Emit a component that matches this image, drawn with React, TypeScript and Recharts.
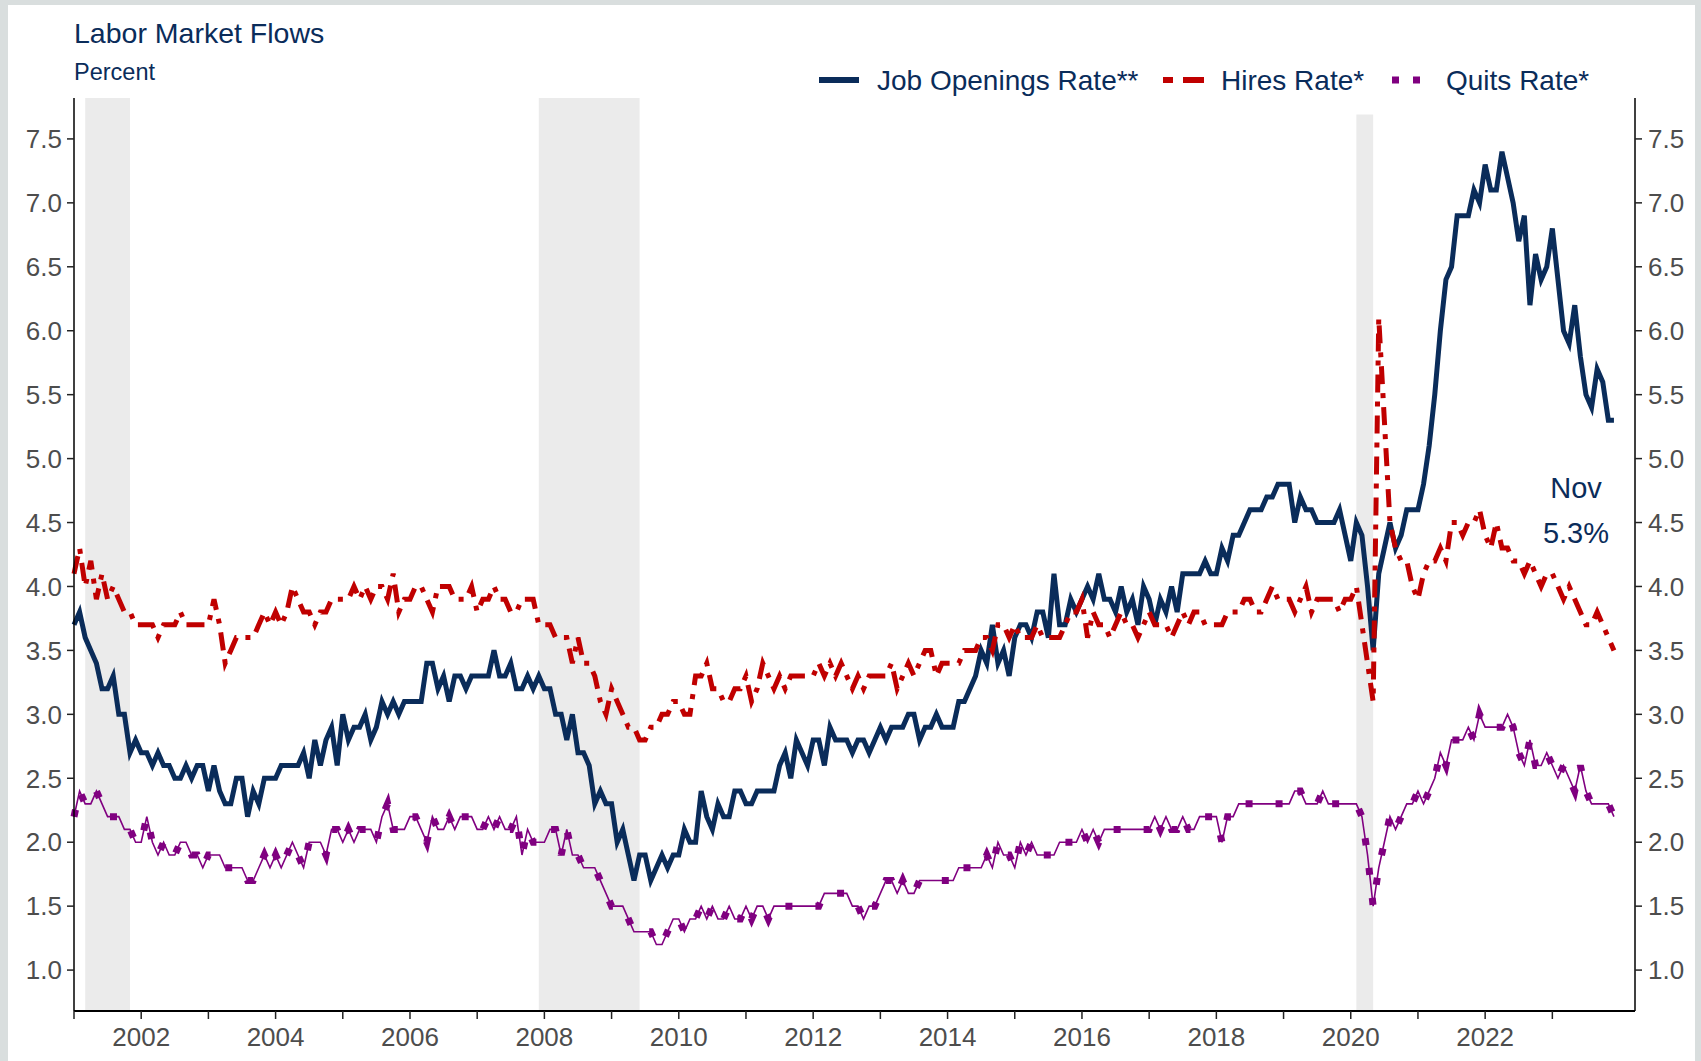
import { LineChart, Line, XAxis, YAxis, ReferenceArea } from 'recharts';

const FONT = '"Liberation Sans", Arial, sans-serif';
const NAVY = '#0A2C5A';
const RED = '#C00000';
const PURPLE = '#800080';
const TICK_GREY = '#4D4D4D';

// monthly, first value = Dec 2000, last = Nov 2023
const START_YEAR = 2001;

const JOB_OPENINGS = [
  3.7, 3.8, 3.6, 3.5, 3.4, 3.2, 3.2, 3.3, 3.0, 3.0, 2.7, 2.8,
  2.7, 2.7, 2.6, 2.7, 2.6, 2.6, 2.5, 2.5, 2.6, 2.5, 2.6, 2.6,
  2.4, 2.6, 2.4, 2.3, 2.3, 2.5, 2.5, 2.2, 2.4, 2.3, 2.5, 2.5,
  2.5, 2.6, 2.6, 2.6, 2.6, 2.7, 2.5, 2.8, 2.6, 2.8, 2.9, 2.6,
  3.0, 2.8, 2.9, 2.9, 3.0, 2.8, 2.9, 3.1, 3.0, 3.1, 3.0, 3.1,
  3.1, 3.1, 3.1, 3.4, 3.4, 3.2, 3.3, 3.1, 3.3, 3.3, 3.2, 3.3,
  3.3, 3.3, 3.3, 3.5, 3.3, 3.3, 3.4, 3.2, 3.2, 3.3, 3.2, 3.3,
  3.2, 3.2, 3.0, 3.0, 2.8, 3.0, 2.7, 2.7, 2.6, 2.3, 2.4, 2.3,
  2.3, 2.0, 2.1, 1.9, 1.7, 1.9, 1.9, 1.7, 1.8, 1.9, 1.8, 1.9,
  1.9, 2.1, 2.0, 2.0, 2.4, 2.2, 2.1, 2.3, 2.2, 2.2, 2.4, 2.4,
  2.3, 2.3, 2.4, 2.4, 2.4, 2.4, 2.6, 2.7, 2.5, 2.8, 2.7, 2.6,
  2.8, 2.8, 2.6, 2.9, 2.8, 2.8, 2.8, 2.7, 2.8, 2.8, 2.7, 2.8,
  2.9, 2.8, 2.9, 2.9, 2.9, 3.0, 3.0, 2.8, 2.9, 2.9, 3.0, 2.9,
  2.9, 2.9, 3.1, 3.1, 3.2, 3.3, 3.5, 3.4, 3.7, 3.4, 3.5, 3.3,
  3.6, 3.7, 3.7, 3.6, 3.8, 3.8, 3.6, 4.1, 3.7, 3.7, 3.9, 3.8,
  3.9, 4.0, 3.9, 4.1, 3.9, 3.9, 3.8, 4.0, 3.8, 3.9, 3.7, 4.0,
  3.9, 3.7, 3.9, 3.8, 4.0, 3.8, 4.1, 4.1, 4.1, 4.1, 4.2, 4.1,
  4.1, 4.3, 4.2, 4.4, 4.4, 4.5, 4.6, 4.6, 4.6, 4.7, 4.7, 4.8,
  4.8, 4.8, 4.5, 4.7, 4.6, 4.6, 4.5, 4.5, 4.5, 4.5, 4.6, 4.4,
  4.2, 4.5, 4.4, 4.0, 3.5, 4.1, 4.3, 4.5, 4.3, 4.4, 4.6, 4.6,
  4.6, 4.8, 5.1, 5.5, 6.0, 6.4, 6.5, 6.9, 6.9, 6.9, 7.1, 7.0,
  7.3, 7.1, 7.1, 7.4, 7.2, 7.0, 6.7, 6.9, 6.2, 6.6, 6.4, 6.5,
  6.8, 6.4, 6.0, 5.9, 6.2, 5.8, 5.5, 5.4, 5.7, 5.6, 5.3, 5.3,
];

const HIRES = [
  4.1, 4.3, 4.0, 4.2, 3.9, 4.1, 3.9, 4.0, 3.9, 3.8, 3.8, 3.7,
  3.7, 3.7, 3.7, 3.6, 3.7, 3.7, 3.7, 3.8, 3.7, 3.7, 3.7, 3.7,
  3.7, 3.9, 3.7, 3.4, 3.5, 3.6, 3.6, 3.6, 3.6, 3.7, 3.8, 3.7,
  3.8, 3.7, 3.8, 4.0, 3.9, 3.8, 3.8, 3.7, 3.8, 3.8, 3.9, 3.9,
  3.9, 3.9, 4.0, 3.9, 4.0, 3.9, 4.0, 4.0, 3.9, 4.1, 3.8, 3.9,
  3.9, 4.0, 4.0, 3.9, 3.8, 4.0, 4.0, 4.0, 3.9, 3.9, 3.9, 4.0,
  3.8, 3.9, 3.9, 4.0, 3.9, 3.9, 3.8, 3.8, 3.9, 3.9, 3.9, 3.7,
  3.7, 3.7, 3.6, 3.6, 3.6, 3.4, 3.6, 3.4, 3.4, 3.3, 3.1, 3.0,
  3.2, 3.1, 3.0, 2.9, 2.9, 2.8, 2.8, 2.9, 2.9, 3.0, 3.0, 3.1,
  3.1, 3.0, 3.0, 3.3, 3.3, 3.4, 3.2, 3.2, 3.1, 3.1, 3.2, 3.2,
  3.3, 3.1, 3.2, 3.4, 3.3, 3.2, 3.3, 3.2, 3.3, 3.3, 3.3, 3.3,
  3.3, 3.4, 3.3, 3.4, 3.3, 3.4, 3.3, 3.2, 3.3, 3.2, 3.3, 3.3,
  3.3, 3.3, 3.4, 3.2, 3.3, 3.4, 3.3, 3.4, 3.5, 3.5, 3.3, 3.4,
  3.4, 3.4, 3.4, 3.5, 3.5, 3.5, 3.6, 3.6, 3.5, 3.7, 3.7, 3.6,
  3.7, 3.6, 3.6, 3.6, 3.7, 3.6, 3.6, 3.6, 3.6, 3.7, 3.8, 3.8,
  3.9, 3.6, 3.8, 3.7, 3.7, 3.6, 3.7, 3.8, 3.7, 3.7, 3.6, 3.7,
  3.8, 3.7, 3.7, 3.7, 3.6, 3.7, 3.8, 3.7, 3.8, 3.8, 3.7, 3.7,
  3.7, 3.7, 3.8, 3.8, 3.8, 3.9, 3.9, 3.8, 3.8, 3.9, 4.0, 3.9,
  3.9, 3.9, 3.8, 3.9, 4.0, 3.8, 3.9, 3.9, 3.9, 3.9, 3.8, 3.9,
  3.9, 4.0, 3.7, 3.4, 3.1, 6.1, 5.3, 4.5, 4.3, 4.2, 4.2, 4.0,
  3.9, 4.1, 4.2, 4.2, 4.3, 4.2, 4.5, 4.5, 4.4, 4.5, 4.5, 4.6,
  4.4, 4.3, 4.5, 4.3, 4.3, 4.2, 4.2, 4.1, 4.2, 4.1, 4.0, 4.1,
  4.1, 4.0, 3.9, 4.0, 3.9, 3.8, 3.7, 3.7, 3.8, 3.7, 3.6, 3.5,
];

const QUITS = [
  2.2, 2.4, 2.3, 2.3, 2.4, 2.3, 2.2, 2.2, 2.2, 2.1, 2.1, 2.0,
  2.0, 2.2, 2.0, 1.9, 2.0, 1.9, 1.9, 2.0, 2.0, 1.9, 1.9, 1.8,
  1.9, 1.9, 1.9, 1.8, 1.8, 1.8, 1.8, 1.7, 1.7, 1.8, 1.9, 1.8,
  1.9, 1.8, 1.9, 2.0, 1.9, 1.8, 2.0, 2.0, 2.0, 1.9, 2.1, 2.1,
  2.0, 2.1, 2.0, 2.1, 2.1, 2.1, 2.0, 2.2, 2.3, 2.1, 2.1, 2.1,
  2.2, 2.2, 2.1, 2.0, 2.2, 2.1, 2.1, 2.2, 2.1, 2.2, 2.2, 2.2,
  2.1, 2.1, 2.2, 2.1, 2.2, 2.1, 2.1, 2.2, 1.9, 2.1, 2.0, 2.0,
  2.0, 2.1, 2.1, 1.9, 2.1, 1.9, 1.9, 1.8, 1.8, 1.8, 1.7, 1.6,
  1.5, 1.5, 1.5, 1.4, 1.3, 1.3, 1.3, 1.3, 1.2, 1.2, 1.3, 1.4,
  1.4, 1.3, 1.4, 1.4, 1.5, 1.4, 1.5, 1.4, 1.4, 1.5, 1.4, 1.4,
  1.5, 1.4, 1.5, 1.5, 1.4, 1.5, 1.5, 1.5, 1.5, 1.5, 1.5, 1.5,
  1.5, 1.5, 1.6, 1.6, 1.6, 1.6, 1.6, 1.5, 1.5, 1.4, 1.5, 1.5,
  1.6, 1.7, 1.7, 1.6, 1.7, 1.6, 1.6, 1.7, 1.7, 1.7, 1.7, 1.7,
  1.7, 1.7, 1.8, 1.8, 1.8, 1.8, 1.8, 1.9, 1.8, 2.0, 1.9, 1.9,
  1.8, 2.0, 1.9, 2.0, 1.9, 1.9, 1.9, 1.9, 2.0, 2.0, 2.0, 2.0,
  2.1, 2.0, 2.1, 2.0, 2.1, 2.1, 2.1, 2.1, 2.1, 2.1, 2.1, 2.1,
  2.1, 2.2, 2.1, 2.2, 2.1, 2.1, 2.2, 2.1, 2.1, 2.2, 2.2, 2.2,
  2.2, 2.0, 2.2, 2.2, 2.3, 2.3, 2.3, 2.3, 2.3, 2.3, 2.3, 2.3,
  2.3, 2.3, 2.4, 2.4, 2.3, 2.3, 2.3, 2.4, 2.3, 2.3, 2.3, 2.3,
  2.3, 2.3, 2.2, 1.9, 1.5, 1.8, 2.0, 2.2, 2.1, 2.2, 2.3, 2.3,
  2.4, 2.3, 2.4, 2.5, 2.7, 2.6, 2.8, 2.8, 2.8, 2.9, 2.8, 3.0,
  2.9, 2.9, 2.9, 2.9, 3.0, 2.9, 2.7, 2.6, 2.8, 2.6, 2.6, 2.7,
  2.6, 2.5, 2.6, 2.5, 2.4, 2.6, 2.4, 2.3, 2.3, 2.3, 2.3, 2.2,
];

const YEAR_TICKS = [
  2001, 2002, 2003, 2004, 2005, 2006, 2007, 2008, 2009, 2010, 2011, 2012,
  2013, 2014, 2015, 2016, 2017, 2018, 2019, 2020, 2021, 2022, 2023,
];
const RATE_TICKS = [1.0, 1.5, 2.0, 2.5, 3.0, 3.5, 4.0, 4.5, 5.0, 5.5, 6.0, 6.5, 7.0, 7.5];
const Y_DOMAIN: [number, number] = [0.68, 7.82];
const X_DOMAIN: [number, number] = [2001, 2024.23];

// NBER recessions (start, end, top of shading)
const RECESSIONS = [
  { from: 2001 + 2 / 12, to: 2001 + 10 / 12, top: 7.82 },
  { from: 2007 + 11 / 12, to: 2009 + 5 / 12, top: 7.82 },
  { from: 2020 + 1 / 12, to: 2020 + 4 / 12, top: 7.69 },
];

const data = JOB_OPENINGS.map((jo, i) => ({
  t: START_YEAR + i / 12,
  jo,
  hires: HIRES[i],
  quits: QUITS[i],
}));

const tickStyle = { fill: TICK_GREY, fontSize: 26, fontFamily: FONT };

const Overlay = () => (
  <svg
    width={1701}
    height={1061}
    style={{ position: 'absolute', left: 0, top: 0, pointerEvents: 'none' }}
    fontFamily={FONT}
  >
    <text x={74} y={43} fontSize={28.5} fill={NAVY}>Labor Market Flows</text>
    <text x={74} y={80} fontSize={23.5} fill={NAVY}>Percent</text>

    {/* legend */}
    <line x1={819} y1={80} x2={859} y2={80} stroke={NAVY} strokeWidth={6} />
    <text x={877} y={90} fontSize={28} fill={NAVY}>Job Openings Rate**</text>
    <line x1={1163} y1={80} x2={1204} y2={80} stroke={RED} strokeWidth={6} strokeDasharray="10 10 22 10" />
    <text x={1221} y={90} fontSize={28} fill={NAVY}>Hires Rate*</text>
    <line x1={1392} y1={80} x2={1432} y2={80} stroke={PURPLE} strokeWidth={7} strokeDasharray="7 14 7 30" />
    <text x={1446} y={90} fontSize={28} fill={NAVY}>Quits Rate*</text>

    {/* latest value note */}
    <text x={1576} y={498} fontSize={29} fill={NAVY} textAnchor="middle">Nov</text>
    <text x={1576} y={543} fontSize={29} fill={NAVY} textAnchor="middle">5.3%</text>
  </svg>
);

export default function App() {
  return (
    <div style={{ position: 'absolute', left: 0, top: 0, width: 1701, height: 1061, background: '#D9DEDE' }}>
      <div style={{ position: 'absolute', left: 8, top: 5, width: 1687, height: 1056, background: '#FFFFFF' }} />
      <div style={{ position: 'absolute', left: 0, top: 0 }}>
        <LineChart width={1701} height={1061} data={data} margin={{ top: 98, right: 6, bottom: 0, left: 0 }}>
          <XAxis
            dataKey="t"
            type="number"
            domain={X_DOMAIN}
            ticks={YEAR_TICKS}
            interval={0}
            tickFormatter={(v: number) => (v % 2 === 0 ? String(v) : '')}
            tick={tickStyle}
            tickSize={8}
            tickMargin={9}
            height={50}
            axisLine={{ stroke: '#000', strokeWidth: 2 }}
            tickLine={{ stroke: '#222', strokeWidth: 1.5 }}
          />
          <YAxis
            yAxisId="left"
            domain={Y_DOMAIN}
            ticks={RATE_TICKS}
            tickFormatter={(v: number) => v.toFixed(1)}
            tick={tickStyle}
            tickSize={7}
            tickMargin={5}
            width={74}
            axisLine={{ stroke: '#000', strokeWidth: 1.5 }}
            tickLine={{ stroke: '#222', strokeWidth: 1.5 }}
          />
          <YAxis
            yAxisId="right"
            orientation="right"
            domain={Y_DOMAIN}
            ticks={RATE_TICKS}
            tickFormatter={(v: number) => v.toFixed(1)}
            tick={tickStyle}
            tickSize={7}
            tickMargin={6}
            width={60}
            axisLine={{ stroke: '#000', strokeWidth: 1.5 }}
            tickLine={{ stroke: '#222', strokeWidth: 1.5 }}
          />

          {RECESSIONS.map((r) => (
            <ReferenceArea
              key={r.from}
              yAxisId="left"
              x1={r.from}
              x2={r.to}
              y1={Y_DOMAIN[0]}
              y2={r.top}
              fill="#EBEBEB"
              fillOpacity={1}
              stroke="none"
            />
          ))}

          <Line
            yAxisId="left"
            type="linear"
            dataKey="jo"
            stroke={NAVY}
            strokeWidth={5}
            dot={false}
            isAnimationActive={false}
          />
          <Line
            yAxisId="left"
            type="linear"
            dataKey="hires"
            stroke={RED}
            strokeWidth={5}
            strokeDasharray="18 9 5 9"
            dot={false}
            isAnimationActive={false}
          />
          <Line
            yAxisId="right"
            type="linear"
            dataKey="quits"
            stroke={PURPLE}
            strokeWidth={1.6}
            dot={false}
            isAnimationActive={false}
          />
          <Line
            yAxisId="left"
            type="linear"
            dataKey="quits"
            stroke={PURPLE}
            strokeWidth={7}
            strokeDasharray="7 23"
            dot={false}
            isAnimationActive={false}
          />
        </LineChart>
      </div>
      <Overlay />
    </div>
  );
}
